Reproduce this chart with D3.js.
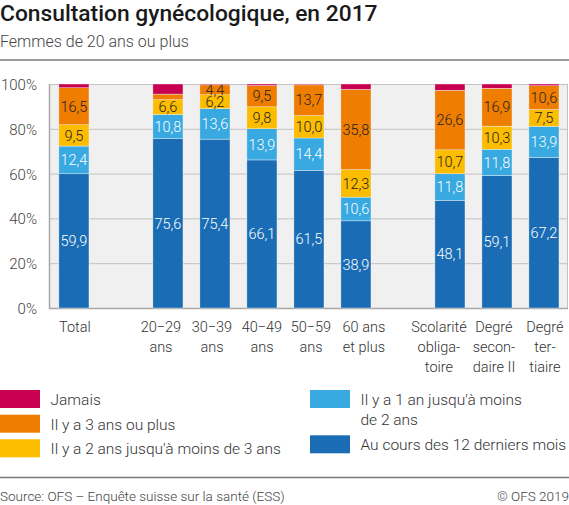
<!DOCTYPE html>
<html>
<head>
<meta charset="utf-8">
<script src="https://cdn.jsdelivr.net/npm/d3@7"></script>
<style>
  body { margin: 0; background: #fff; }
  svg { display: block; font-family: Roboto, "Noto Sans", sans-serif; font-weight: 300; }
</style>
</head>
<body>
<div id="chart"></div>
<script>
// categories (null = empty slot between groups)
var categories = ["Total", null, "20−29 ans", "30−39 ans", "40−49 ans", "50−59 ans", "60 ans et plus", null, "Scolarité obligatoire", "Degré secondaire II", "Degré tertiaire"];
var tickLines = [["Total"], [], ["20−29", "ans"], ["30−39", "ans"], ["40−49", "ans"], ["50−59", "ans"], ["60 ans", "et plus"], [], ["Scolarité", "obliga-", "toire"], ["Degré", "secon-", "daire II"], ["Degré", "ter-", "tiaire"]];

// series values, in % (bottom to top)
var mois12  = [59.9, null, 75.6, 75.4, 66.1, 61.5, 38.9, null, 48.1, 59.1, 67.2];
var an1a2   = [12.4, null, 10.8, 13.6, 13.9, 14.4, 10.6, null, 11.8, 11.8, 13.9];
var ans2a3  = [9.5,  null, 6.6,  6.2,  9.8,  10.0, 12.3, null, 10.7, 10.3, 7.5];
var ans3    = [16.5, null, 2.5,  4.4,  9.5,  13.7, 35.8, null, 26.6, 16.9, 10.6];
var jamais  = [1.7,  null, 4.5,  0.4,  0.7,  0.4,  2.4,  null, 2.8,  1.9,  0.8];

var colors = ["#1a6db5", "#38a9e1", "#fcbc00", "#ef7d00", "#c8004f"];
var labelColors = ["#fff", "#fff", "#222", "#222"];
var yTicks = [0, 20, 40, 60, 80, 100];

// small horizontal nudges of the category labels, as in the original layout
var labelNudge = [1, 0, -7, -3, 0, 2, 8, 0, -11, -3, 1];

var W = 569, H = 505;
var svg = d3.select("#chart").append("svg")
  .attr("width", W).attr("height", H);

// build rows for the stack
var keys = ["s0", "s1", "s2", "s3", "s4"];
var allSeries = [mois12, an1a2, ans2a3, ans3, jamais];
var rows = categories.map(function(c, i) {
  var r = {slot: "slot" + i, cat: c};
  keys.forEach(function(k, j) { r[k] = allSeries[j][i] || 0; });
  return r;
});

var x = d3.scaleBand()
  .domain(rows.map((d) => d.slot))
  .range([49.5, 568.4])
  .paddingInner(0.36)
  .paddingOuter(0.2);

var y = d3.scaleLinear().domain([0, 100]).range([308, 84]);

// title
svg.append("text").attr("x", 0).attr("y", 21)
  .style("font-size", "22.8px").style("font-weight", 500).attr("fill", "#1a1a1a")
  .text("Consultation gynécologique, en 2017");
svg.append("text").attr("x", 0).attr("y", 46.5)
  .style("font-size", "16px").attr("fill", "#444")
  .text("Femmes de 20 ans ou plus");
svg.append("line").attr("x1", 0).attr("x2", W).attr("y1", 60).attr("y2", 60)
  .attr("stroke", "#7a7a7a").attr("stroke-width", 1.5);

// plot background
svg.append("rect").attr("x", 50).attr("y", y(100)).attr("width", 518).attr("height", y(0) - y(100))
  .attr("fill", "#f0f0f0");

// y axis + grid
var yAxis = d3.axisLeft(y).tickValues(yTicks).tickSize(-518).tickFormat((d) => d + "%");
var gy = svg.append("g").attr("transform", "translate(50,0)").call(yAxis);
gy.select(".domain").remove();
gy.selectAll(".tick line").attr("stroke", "#c2c2c2");
gy.selectAll(".tick text").attr("x", -13).attr("dy", "0.36em")
  .style("font-size", "15px").attr("fill", "#444")
  .style("font-family", "Roboto, sans-serif").style("font-weight", 300);

svg.append("line").attr("x1", 49.5).attr("x2", 49.5).attr("y1", y(100)).attr("y2", y(0) + 1)
  .attr("stroke", "#a8a8a8").attr("stroke-width", 1.5);
svg.append("line").attr("x1", 567.5).attr("x2", 567.5).attr("y1", y(100)).attr("y2", y(0))
  .attr("stroke", "#c2c2c2").attr("stroke-width", 1);
svg.append("line").attr("x1", 49).attr("x2", 568).attr("y1", y(0) + 0.5).attr("y2", y(0) + 0.5)
  .attr("stroke", "#a8a8a8").attr("stroke-width", 1.5);

// stacked bars
var stacked = d3.stack().keys(keys)(rows.filter((d) => d.cat !== null));
var layers = svg.selectAll(".layer")
  .data(stacked)
  .join("g")
  .attr("class", "layer")
  .attr("fill", (d, i) => colors[i]);

layers.selectAll("rect")
  .data((d) => d)
  .join("rect")
  .attr("x", (d) => x(d.data.slot))
  .attr("width", x.bandwidth())
  .attr("y", (d) => y(d[1]))
  .attr("height", (d) => y(d[0]) - y(d[1]))
  .attr("stroke", "#f4f4f4")
  .attr("stroke-width", 0.4);

// value labels (not for "Jamais", nor for tiny segments)
var fmt = (v) => v.toFixed(1).replace(".", ",");
layers.filter((d, i) => i < 4).each(function(layer, li) {
  d3.select(this).selectAll("text")
    .data(layer.filter((d) => (d[1] - d[0]) >= 4))
    .join("text")
    .attr("x", (d) => x(d.data.slot) + x.bandwidth() / 2)
    .attr("y", (d) => y((d[0] + d[1]) / 2))
    .attr("dy", "0.36em")
    .attr("text-anchor", "middle")
    .attr("fill", labelColors[li])
    .style("font-size", "14.5px")
    .text((d) => fmt(d[1] - d[0]));
});

// x labels
rows.forEach(function(r, i) {
  var cx = x(r.slot) + x.bandwidth() / 2 + labelNudge[i];
  var t = svg.append("text")
    .attr("text-anchor", "middle")
    .attr("fill", "#333")
    .style("font-size", "14.5px");
  tickLines[i].forEach(function(line, k) {
    t.append("tspan").attr("x", cx).attr("y", 331.5 + k * 20).text(line);
  });
});

// legend
var legendItems = [
  {i: 4, x: 0, y: 390, lines: ["Jamais"]},
  {i: 3, x: 0, y: 414.7, lines: ["Il y a 3 ans ou plus"]},
  {i: 2, x: 0, y: 439.3, lines: ["Il y a 2 ans jusqu'à moins de 3 ans"]},
  {i: 1, x: 310, y: 390, lines: ["Il y a 1 an jusqu'à moins", "de 2 ans"]},
  {i: 0, x: 310, y: 435.3, lines: ["Au cours des 12 derniers mois"]}
];
var lg = svg.selectAll(".legend").data(legendItems).join("g").attr("class", "legend");
lg.append("rect")
  .attr("x", (d) => d.x).attr("y", (d) => d.y)
  .attr("width", 40).attr("height", 18)
  .attr("fill", (d) => colors[d.i]);
lg.each(function(d) {
  var t = d3.select(this).append("text")
    .attr("fill", "#333").style("font-size", "15.5px");
  d.lines.forEach(function(line, k) {
    t.append("tspan").attr("x", d.x + 50.5).attr("y", d.y + 15 + k * 20).text(line);
  });
});

// footer
svg.append("line").attr("x1", 0).attr("x2", W).attr("y1", 477.5).attr("y2", 477.5)
  .attr("stroke", "#7a7a7a").attr("stroke-width", 1.5);
svg.append("text").attr("x", 0).attr("y", 501)
  .style("font-size", "13.5px").attr("fill", "#444")
  .text("Source: OFS – Enquête suisse sur la santé (ESS)");
svg.append("text").attr("x", W).attr("y", 501).attr("text-anchor", "end")
  .style("font-size", "13.5px").attr("fill", "#444")
  .text("© OFS 2019");
</script>
</body>
</html>
